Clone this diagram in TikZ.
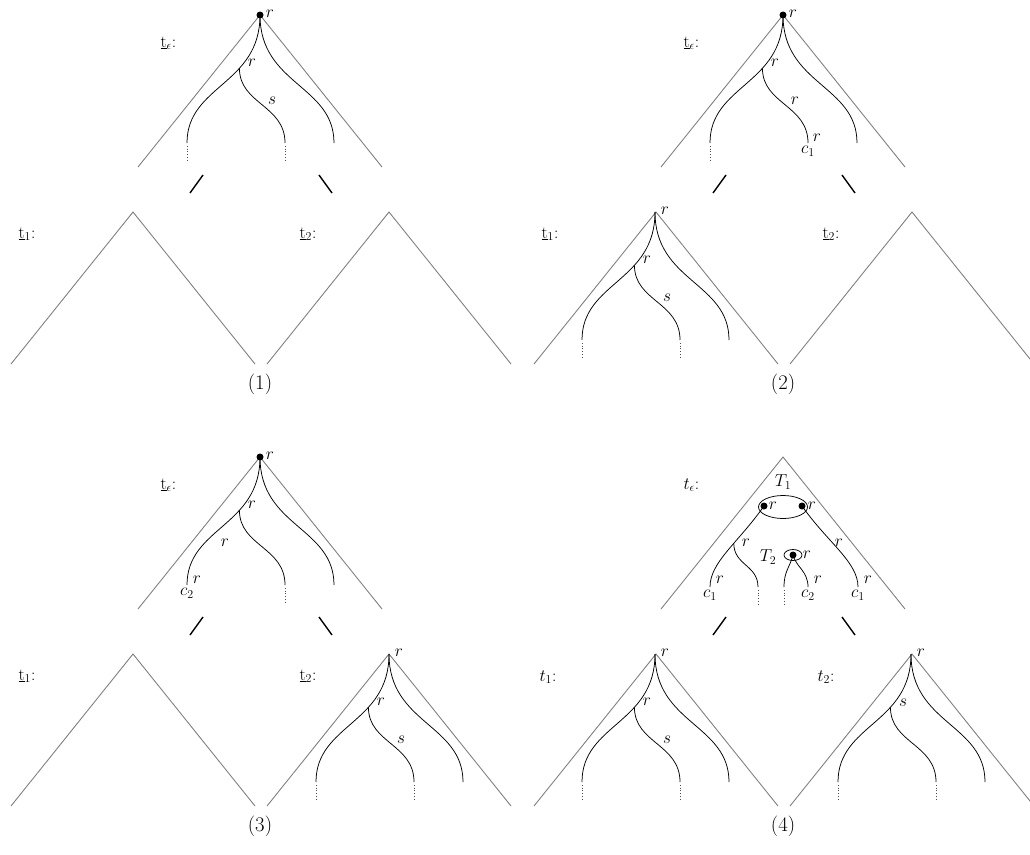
\documentclass[tikz,border=0pt]{standalone}
\usetikzlibrary{calc,positioning,shapes.geometric}

\tikzset{
  frame/.style={gray, line width=0.9pt},
  strand/.style={line width=0.75pt},
  tail/.style={black!70, dotted, line width=0.7pt},
  link/.style={line width=1.4pt},
  root/.style={circle, fill, inner sep=0pt, minimum size=7pt},
  ring/.style={draw, ellipse, line width=0.75pt, inner sep=0pt},
  caption/.style={font=\fontsize{20.74}{24}\selectfont},
  tri/.pic={\draw[frame] (-122,152) -- (0,0) -- (122,152);},
  strands/.pic={
    \coordinate (-top) at (0,0);
    \coordinate (-l) at (-73,128);
    \coordinate (-m) at (25,128);
    \coordinate (-rt) at (74,128);
    \draw[strand] (-top) .. controls (0,70) and (-73,70) .. (-l)
      coordinate[pos=0.35] (-b);
    \draw[strand] (-b) .. controls +(0,36) and +(0,-38) .. (-m);
    \draw[strand] (-top) .. controls (0,70) and (74,70) .. (-rt);
  },
}

\begin{document}
\begin{tikzpicture}[x=1pt, y=-1pt, every node/.style={font=\fontsize{17.28}{20}\selectfont}]
  \useasboundingbox (0,0) rectangle (1030,854);

  % frames, links and captions of the four panels
  \foreach \px/\py/\n in {0/0/1, 523/0/2, 0/442/3, 523/442/4}{
    \begin{scope}[shift={(\px,\py)}]
      \pic at (260,15) {tri};
      \pic at (133,212) {tri};
      \pic at (389,212) {tri};
      \draw[link] (190,193) -- (203,175);
      \draw[link] (319,175) -- (332,193);
      \node[caption] (cap\n) at (260,384) {(\n)};
    \end{scope}
  }

  % tree names
  \foreach \px/\py in {0/0, 523/0, 0/442}{
    \node[anchor=west] at (\px+157,\py+43) {$\underline{\mathrm{t}}_\epsilon$:};
    \node[anchor=west] at (\px+15,\py+234) {$\underline{\mathrm{t}}_1$:};
    \node[anchor=west] at (\px+296,\py+234) {$\underline{\mathrm{t}}_2$:};
  }
  \node[anchor=west] at (680,485) {$t_\epsilon$:};
  \node[anchor=west] at (536,677) {$t_1$:};
  \node[anchor=west] at (814,677) {$t_2$:};

  % (1)
  \pic (a) at (260,15) {strands};
  \node[root] (a-dot) at (a-top) {};
  \node at ($(a-top)+(10,-1)$) {$r$};
  \node at ($(a-top)+(-8,48)$) {$r$};
  \node at ($(a-top)+(12,86)$) {$s$};
  \draw[tail] (a-l) ++(0,3) -- ++(0,16);
  \draw[tail] (a-m) ++(0,3) -- ++(0,16);

  % (2)
  \pic (b) at (783,15) {strands};
  \node[root] (b-dot) at (b-top) {};
  \node at ($(b-top)+(10,-1)$) {$r$};
  \node at ($(b-top)+(-8,48)$) {$r$};
  \node at ($(b-top)+(12,86)$) {$r$};
  \node at ($(b-m)+(9,-5)$) {$r$};
  \node[below=0pt of b-m] {$c_1$};
  \draw[tail] (b-l) ++(0,3) -- ++(0,16);

  \pic (c) at (655,212) {strands};
  \node at ($(c-top)+(10,-1)$) {$r$};
  \node at ($(c-top)+(-8,48)$) {$r$};
  \node at ($(c-top)+(12,86)$) {$s$};
  \draw[tail] (c-l) ++(0,3) -- ++(0,16);
  \draw[tail] (c-m) ++(0,3) -- ++(0,16);

  % (3)
  \pic (d) at (260,457) {strands};
  \node[root] (d-dot) at (d-top) {};
  \node at ($(d-top)+(10,-1)$) {$r$};
  \node at ($(d-top)+(-8,48)$) {$r$};
  \node at ($(d-top)+(-35,86)$) {$r$};
  \node at ($(d-l)+(10,-5)$) {$r$};
  \node[below=0pt of d-l] {$c_2$};
  \draw[tail] (d-m) ++(0,3) -- ++(0,16);

  \pic (e) at (389,654) {strands};
  \node at ($(e-top)+(10,-1)$) {$r$};
  \node at ($(e-top)+(-8,48)$) {$r$};
  \node at ($(e-top)+(12,86)$) {$s$};
  \draw[tail] (e-l) ++(0,3) -- ++(0,16);
  \draw[tail] (e-m) ++(0,3) -- ++(0,16);

  % (4)
  \begin{scope}[shift={(783,457)}]
    \node[ring, minimum width=49pt, minimum height=23pt] (T1) at (0,50) {};
    \node (T1lab) at (0,25) {$T_1$};
    \node[root] (u1) at (-19,49) {};
    \node[root] (u2) at (19,49) {};
    \node at (-10,49) {$r$};
    \node at (29,49) {$r$};
    \node[ring, minimum width=18pt, minimum height=11pt] (T2) at (10,98) {};
    \node[root] (u3) at (T2.center) {};
    \node (T2lab) at (-15,100) {$T_2$};
    \node at (24,98) {$r$};
    \coordinate (e1) at (-73,130);
    \coordinate (e2) at (-25,130);
    \coordinate (e3) at (1,130);
    \coordinate (e4) at (25,130);
    \coordinate (e5) at (75,130);
    \draw[strand] (u1.center) .. controls (-45,86) and (-73,105) .. (e1)
      coordinate[pos=0.4] (v1);
    \draw[strand] (v1) .. controls +(0,22) and +(0,-22) .. (e2);
    \draw[strand] (u3.center) .. controls +(-3,12) and +(0,-16) .. (e3);
    \draw[strand] (u3.center) .. controls +(3,12) and +(0,-16) .. (e4);
    \draw[strand] (u2.center) .. controls (45,86) and (75,105) .. (e5);
    \node at (-37,86) {$r$};
    \node at (56,86) {$r$};
    \node at (-63,123) {$r$};
    \node at (35,123) {$r$};
    \node at (85,123) {$r$};
    \node[below=0pt of e1] {$c_1$};
    \node[below=0pt of e4] {$c_2$};
    \node[below=0pt of e5] {$c_1$};
    \draw[tail] (e2) ++(0,3) -- ++(0,16);
    \draw[tail] (e3) ++(0,3) -- ++(0,16);
  \end{scope}

  \pic (f) at (655,654) {strands};
  \node at ($(f-top)+(10,-1)$) {$r$};
  \node at ($(f-top)+(-8,48)$) {$r$};
  \node at ($(f-top)+(12,86)$) {$s$};
  \draw[tail] (f-l) ++(0,3) -- ++(0,16);
  \draw[tail] (f-m) ++(0,3) -- ++(0,16);

  \pic (g) at (911,654) {strands};
  \node at ($(g-top)+(10,-1)$) {$r$};
  \node at ($(g-top)+(-8,49)$) {$s$};
  \draw[tail] (g-l) ++(0,3) -- ++(0,16);
  \draw[tail] (g-m) ++(0,3) -- ++(0,16);
\end{tikzpicture}
\end{document}
